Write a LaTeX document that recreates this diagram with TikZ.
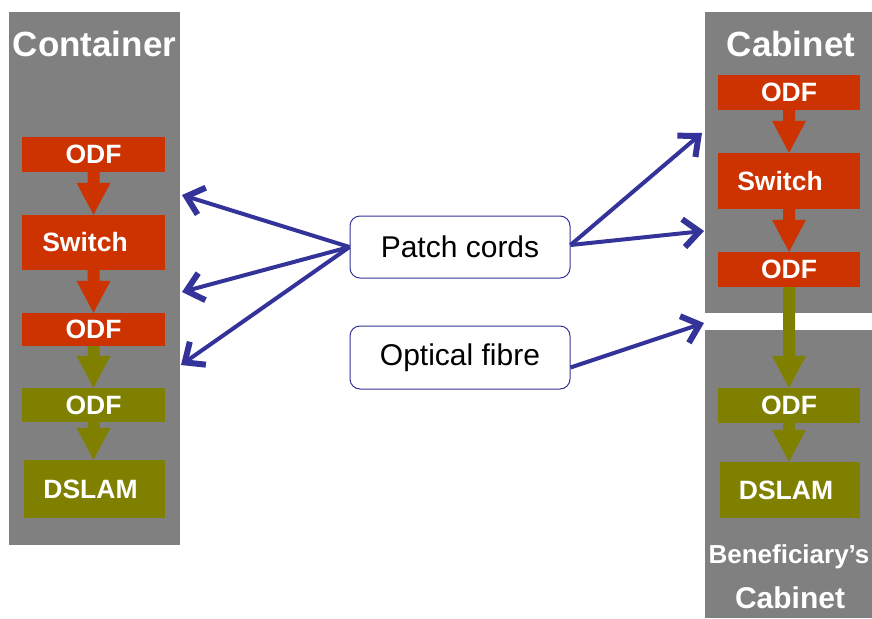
\documentclass[tikz,border=0pt]{standalone}
\usepackage{fontspec}
\setmainfont{Liberation Sans}
\usetikzlibrary{calc}
\usetikzlibrary{arrows.meta}

\definecolor{boxgray}{HTML}{808080}
\definecolor{odfred}{HTML}{CC3300}
\definecolor{odfolive}{HTML}{808000}
\definecolor{cordblue}{HTML}{333399}

% big block arrow from one box down to the next
\newcommand{\flowarrow}[3]{%
  \coordinate (tip) at (#1.south |- #2.north);
  \fill[#3] ($(#1.south)+(-6,0)$) -- ($(tip)+(-6,-32)$) -- ($(tip)+(-17,-32)$) -- (tip)
    -- ($(tip)+(17,-32)$) -- ($(tip)+(6,-32)$) -- ($(#1.south)+(6,0)$) -- cycle;
}

\begin{document}
\begin{tikzpicture}[x=1pt, y=-1pt,
  unit/.style={inner sep=0pt, text=white, font=\bfseries\fontsize{26.5}{26.5}\selectfont},
  redbox/.style={unit, fill=odfred},
  olivebox/.style={unit, fill=odfolive},
  title/.style={text=white, inner sep=0pt, font=\bfseries\fontsize{#1}{#1}\selectfont},
  cordbox/.style={draw=cordblue, line width=1pt, fill=white, rounded corners=10pt,
    minimum width=220pt, minimum height=62pt, inner sep=0pt,
    font=\fontsize{30}{30}\selectfont},
  link/.style={cordblue, line width=4pt,
    -{Straight Barb[length=16pt,width=28pt,line width=0pt 1.5]}}]
\useasboundingbox (0,0) rectangle (872,618);

% housings
\fill[boxgray] (9,12) rectangle (180,545);
\fill[boxgray] (705,12) rectangle (872,313);
\fill[boxgray] (705,330) rectangle (872,618);

\node[title=35] (container) at (94.5,44) {Container};
\node[title=35] (cabinet) at (791,44) {Cabinet};
\node[title=26] (benef) at (789,557) {Beneficiary’s};
\node[title=30] (benefcab) at (790,598) {Cabinet};

% container column
\node[redbox, minimum width=143pt, minimum height=35pt] (lodfa) at (93.5,154.5) {ODF};
\node[redbox, minimum width=143pt, minimum height=55pt] (lswitch) at (93.5,242.5) {\hspace*{-17pt}Switch};
\node[redbox, minimum width=143pt, minimum height=33pt] (lodfb) at (93.5,329.5) {ODF};
\node[olivebox, minimum width=143pt, minimum height=34pt] (lodfc) at (93.5,405) {ODF};
\node[olivebox, minimum width=141pt, minimum height=58pt] (ldslam) at (94.5,489) {\hspace*{-8pt}DSLAM};

\flowarrow{lodfa}{lswitch}{odfred}
\flowarrow{lswitch}{lodfb}{odfred}
\flowarrow{lodfb}{lodfc}{odfolive}
\flowarrow{lodfc}{ldslam}{odfolive}

% cabinet column
\node[redbox, minimum width=142pt, minimum height=35pt] (rodfa) at (789,92.5) {ODF};
\node[redbox, minimum width=142pt, minimum height=56pt] (rswitch) at (789,181) {\hspace*{-18pt}Switch};
\node[redbox, minimum width=142pt, minimum height=35pt] (rodfb) at (789,269.5) {ODF};
\node[olivebox, minimum width=142pt, minimum height=35pt] (rodfc) at (789,405.5) {ODF};
\node[olivebox, minimum width=140pt, minimum height=56pt] (rdslam) at (790,490) {\hspace*{-8pt}DSLAM};

\flowarrow{rodfa}{rswitch}{odfred}
\flowarrow{rswitch}{rodfb}{odfred}
\flowarrow{rodfb}{rodfc}{odfolive}
\flowarrow{rodfc}{rdslam}{odfolive}

% cords
\node[cordbox] (patch) at (460,247) {Patch cords};
\node[cordbox, minimum height=63pt] (fibre) at (460,357.5) {Optical fibre};

\coordinate (la) at (182,195);
\coordinate (lb) at (182,292);
\coordinate (lc) at (181,365);
\coordinate (ra) at (702,133);
\coordinate (rb) at (704,231);
\coordinate (rc) at (704,323);

\draw[link] (patch.west) -- (la);
\draw[link] (patch.west) -- (lb);
\draw[link] (patch.west) -- (lc);
\draw[link] ([yshift=2pt]patch.east) -- (ra);
\draw[link] ([yshift=2pt]patch.east) -- (rb);
\draw[link] ([yshift=-10pt]fibre.east) -- (rc);

\end{tikzpicture}
\end{document}
